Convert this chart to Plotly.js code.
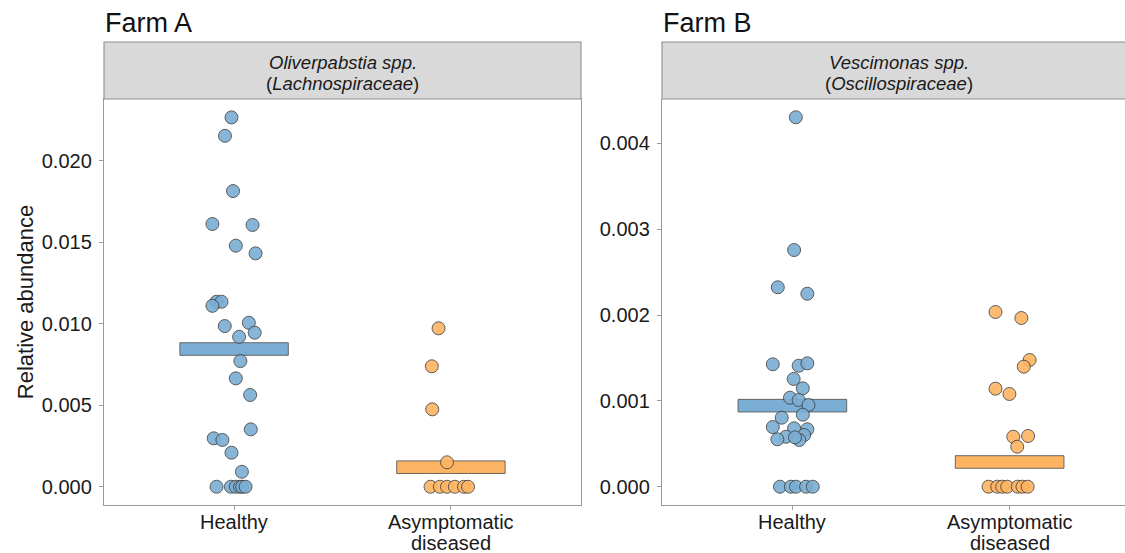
<!DOCTYPE html>
<html>
<head>
<meta charset="utf-8">
<script src="https://cdn.plot.ly/plotly-3.0.1.min.js"></script>
<style>
  html, body { margin: 0; padding: 0; background: #ffffff; overflow: hidden; }
  #chart { width: 1125px; height: 553px; }
</style>
</head>
<body>
<div id="chart"></div>
<script>
// Group labels on the x axis (category 1 and 2); each entry lists its text lines
const categories = [['Healthy'], ['Asymptomatic', 'diseased']];
const farmTitles = ['Farm A', 'Farm B'];
const taxonNames = ['Oliverpabstia spp.', 'Vescimonas spp.'];
const taxonFamilies = ['Lachnospiraceae', 'Oscillospiraceae'];

// Farm A – Oliverpabstia: relative abundance per animal and horizontal jitter
const farmAHealthy = [0.02266, 0.02153, 0.01814, 0.01612, 0.01606, 0.01479, 0.01432,
  0.01135, 0.01135, 0.01110, 0.01006, 0.00986, 0.00945, 0.00920, 0.00771, 0.00665,
  0.00563, 0.00352, 0.00297, 0.00287, 0.00209, 0.00092, 0, 0, 0, 0, 0, 0];
const farmAHealthyJitter = [-0.012, -0.042, -0.005, -0.100, 0.085, 0.008, 0.099,
  -0.081, -0.058, -0.100, 0.068, -0.043, 0.095, 0.023, 0.029, 0.008,
  0.074, 0.077, -0.094, -0.054, -0.012, 0.036, -0.081, -0.015, 0.008, 0.027, 0.037, 0.053];
const farmAAsym = [0.00972, 0.00739, 0.00475, 0.00150, 0, 0, 0, 0, 0, 0];
const farmAAsymJitter = [-0.057, -0.088, -0.086, -0.018, -0.094, -0.051, -0.018, 0.018, 0.060, 0.079];
const farmACentre = [0.00845, 0.00120];

// Farm B – Vescimonas
const farmBHealthy = [0.004303, 0.002757, 0.002323, 0.002248, 0.001426, 0.001409, 0.001437,
  0.001255, 0.001146, 0.001037, 0.001010, 0.000952, 0.000839, 0.000804, 0.000695, 0.000680,
  0.000669, 0.000582, 0.000552, 0.000602, 0.000544, 0.000575, 0, 0, 0, 0, 0];
const farmBHealthyJitter = [0.016, 0.008, -0.067, 0.069, -0.090, 0.029, 0.069,
  0.006, 0.048, -0.011, 0.029, 0.074, 0.048, -0.049, -0.090, 0.008,
  0.069, -0.029, -0.069, 0.054, 0.032, 0.012, -0.057, -0.007, 0.017, 0.063, 0.094];
const farmBAsym = [0.002035, 0.001965, 0.001476, 0.001398, 0.001142, 0.001080, 0.000582,
  0.000591, 0.000466, 0, 0, 0, 0, 0, 0, 0];
const farmBAsymJitter = [-0.065, 0.054, 0.092, 0.065, -0.065, -0.001, 0.017,
  0.085, 0.035, -0.097, -0.057, -0.034, -0.011, 0.037, 0.059, 0.083];
const farmBCentre = [0.000944, 0.000288];

// Axis ranges and ticks
const yRangeA = [-0.00112, 0.02379];
const yRangeB = [-0.000213, 0.004516];
const yTicksA = [0, 0.005, 0.010, 0.015, 0.020];
const yTicksB = [0, 0.001, 0.002, 0.003, 0.004];

const BLUE = '#7BAED4';
const ORANGE = '#FDB462';
const FONT = 'Liberation Sans, Arial, Helvetica, sans-serif';
const W = 1125, H = 553;
const px = v => v / W;           // horizontal pixel -> paper
const py = v => 1 - v / H;       // vertical pixel -> paper

function points(yVals, jitter, cat, color, xa, ya) {
  return {
    type: 'scatter', mode: 'markers',
    x: yVals.map((_, i) => cat + jitter[i]),
    y: yVals,
    xaxis: xa, yaxis: ya,
    marker: { size: 13, color: color, opacity: 0.9, line: { color: '#3c3c3c', width: 0.9 } },
    hoverinfo: 'y', showlegend: false
  };
}

// Group centre drawn as a thin horizontal box of fixed visual thickness
function centreBar(value, cat, color, range, xa, ya) {
  const t = 0.031 * (range[1] - range[0]);
  return {
    type: 'bar', x: [cat], y: [t], base: [value - t / 2], width: 0.5,
    xaxis: xa, yaxis: ya,
    marker: { color: color, line: { color: '#5a5a5a', width: 0.9 } },
    hoverinfo: 'skip', showlegend: false
  };
}

const traces = [
  centreBar(farmACentre[0], 1, BLUE, yRangeA, 'x', 'y'),
  centreBar(farmACentre[1], 2, ORANGE, yRangeA, 'x', 'y'),
  centreBar(farmBCentre[0], 1, BLUE, yRangeB, 'x2', 'y2'),
  centreBar(farmBCentre[1], 2, ORANGE, yRangeB, 'x2', 'y2'),
  points(farmAHealthy, farmAHealthyJitter, 1, BLUE, 'x', 'y'),
  points(farmAAsym, farmAAsymJitter, 2, ORANGE, 'x', 'y'),
  points(farmBHealthy, farmBHealthyJitter, 1, BLUE, 'x2', 'y2'),
  points(farmBAsym, farmBAsymJitter, 2, ORANGE, 'x2', 'y2')
];

const axisLine = '#9a9a9a';
const textColor = '#1a1a1a';
const tickFont = { family: FONT, size: 20, color: textColor };

function xAxis(domain, range, mirror, anchor) {
  return {
    domain: domain, range: range, anchor: anchor, fixedrange: true,
    tickvals: [1, 2], showticklabels: false,
    showgrid: false, zeroline: false,
    showline: true, linecolor: axisLine, linewidth: 1.2, mirror: mirror,
    ticks: 'outside', ticklen: 4, tickcolor: axisLine, tickwidth: 1
  };
}
function yAxis(domain, range, ticks, anchor, mirror) {
  return {
    domain: domain, range: range, anchor: anchor, fixedrange: true,
    tickvals: ticks, tickformat: '.3f', tickfont: tickFont,
    showgrid: false, zeroline: false,
    showline: true, linecolor: axisLine, linewidth: 1.2, mirror: mirror,
    ticks: 'outside', ticklen: 4, tickcolor: axisLine, tickwidth: 1,
    ticklabelstandoff: 3
  };
}

const yDom = [py(505), py(99)];
const stripTop = py(42), stripBot = py(99);
const panels = [[104, 581], [662, 1135]];

const shapes = panels.map(p => ({
  type: 'rect', xref: 'paper', yref: 'paper',
  x0: px(p[0]), x1: px(p[1]), y0: stripBot, y1: stripTop,
  fillcolor: '#D9D9D9', line: { color: '#8f8f8f', width: 1.1 }, layer: 'above'
}));

const annotations = [];
panels.forEach((p, i) => {
  const cx = px((p[0] + p[1]) / 2);
  annotations.push({
    xref: 'paper', yref: 'paper', x: px(p[0] - 1), y: py(23), xanchor: 'left', yanchor: 'middle',
    text: farmTitles[i], showarrow: false, font: { family: FONT, size: 27, color: '#111111' }
  });
  annotations.push({
    xref: 'paper', yref: 'paper', x: cx, y: py(63), xanchor: 'center', yanchor: 'middle',
    text: '<i>' + taxonNames[i] + '</i>', showarrow: false,
    font: { family: FONT, size: 18.5, color: textColor }
  });
  annotations.push({
    xref: 'paper', yref: 'paper', x: cx, y: py(83), xanchor: 'center', yanchor: 'middle',
    text: '(<i>' + taxonFamilies[i] + '</i>)', showarrow: false,
    font: { family: FONT, size: 18.5, color: textColor }
  });
  // x tick labels, one line per annotation so the line spacing stays tight
  categories.forEach((lines, c) => {
    lines.forEach((line, k) => {
      annotations.push({
        xref: i === 0 ? 'x' : 'x2', yref: 'paper', x: c + 1, y: py(522 + 20.5 * k),
        xanchor: 'center', yanchor: 'middle', text: line, showarrow: false,
        font: tickFont
      });
    });
  });
});

const layout = {
  width: W, height: H,
  margin: { l: 0, r: 0, t: 0, b: 0 },
  paper_bgcolor: '#ffffff', plot_bgcolor: '#ffffff',
  barmode: 'overlay',
  xaxis: xAxis([px(104), px(581)], [0.4, 2.6], true, 'y'),
  yaxis: Object.assign(yAxis(yDom, yRangeA, yTicksA, 'x', true), {
    title: { text: 'Relative abundance', font: { family: FONT, size: 22, color: textColor }, standoff: 2 }
  }),
  xaxis2: xAxis([px(662), 1], [0.4, 2.531], false, 'y2'),
  yaxis2: yAxis(yDom, yRangeB, yTicksB, 'x2', false),
  shapes: shapes, annotations: annotations,
  font: { family: FONT }
};

Plotly.newPlot('chart', traces, layout, { displayModeBar: false, staticPlot: true });
</script>
</body>
</html>
